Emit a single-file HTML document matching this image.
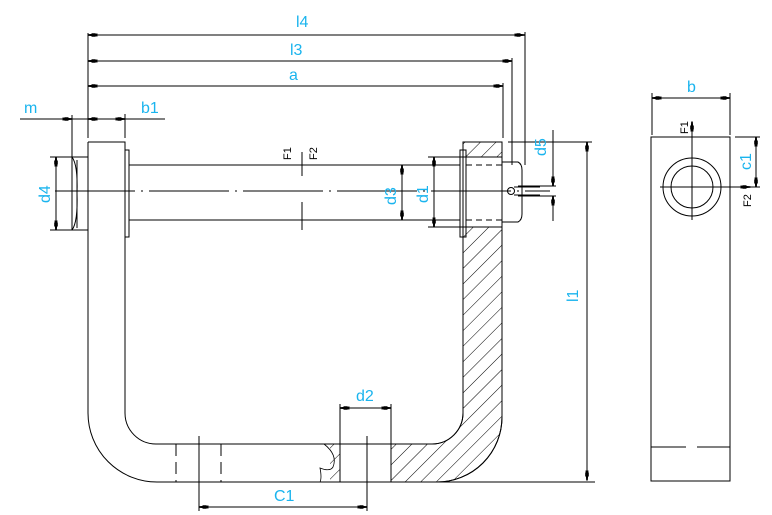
<!DOCTYPE html>
<html><head><meta charset="utf-8"><style>
html,body{margin:0;padding:0;background:#fff;}
svg{display:block}
text{font-family:"Liberation Sans",sans-serif;stroke:none;}
.c{fill:#1ab4ee;font-size:16px;stroke:none;}
.k{fill:#000;font-size:11px;stroke:none;}
</style></head><body>
<svg width="772" height="515" viewBox="0 0 772 515" xmlns="http://www.w3.org/2000/svg">
<defs>
<marker id="a" markerWidth="10" markerHeight="6" refX="9.5" refY="3" orient="auto-start-reverse" markerUnits="userSpaceOnUse">
<path d="M0,1.5 L10,2.2 L10,3.8 L0,4.5 Z M2,1.2 H6 V4.8 H2 Z" fill="#000" stroke="none"/>
</marker>
<pattern id="h" patternUnits="userSpaceOnUse" width="11" height="11" patternTransform="rotate(45)">
<line x1="0" y1="0" x2="0" y2="11" stroke="#000" stroke-width="1"/>
</pattern>
</defs>
<g stroke="#000" stroke-width="1" fill="none">
<path d="M463,142 H502 V157 H463 Z" fill="url(#h)"/>
<path d="M463,227 H502 V417 A65,65 0 0 1 437,482 H391 V444 H432 A31,31 0 0 0 463,413 Z" fill="url(#h)"/>
<path d="M330,444 H340 V482 H330 Z" fill="url(#h)" stroke="none"/>

<line x1="88" y1="33" x2="88" y2="138"/>
<line x1="88" y1="35" x2="524" y2="35" marker-start="url(#a)" marker-end="url(#a)"/>
<line x1="525" y1="32" x2="525" y2="165"/>
<line x1="88" y1="61" x2="512" y2="61" marker-start="url(#a)" marker-end="url(#a)"/>
<line x1="512" y1="58" x2="512" y2="165"/>
<line x1="88" y1="86" x2="503" y2="86" marker-start="url(#a)" marker-end="url(#a)"/>
<line x1="503" y1="83" x2="503" y2="138"/>

<line x1="20" y1="119" x2="165" y2="119"/>
<line x1="58" y1="119" x2="72" y2="119" marker-end="url(#a)"/>
<line x1="88" y1="119" x2="125" y2="119" marker-start="url(#a)" marker-end="url(#a)"/>
<line x1="72" y1="115" x2="72" y2="230"/>
<line x1="125" y1="114" x2="125" y2="138"/>

<path d="M88,142 H125 V413 A31,31 0 0 0 156,444 H432 A31,31 0 0 0 463,413 V142"/>
<path d="M88,142 V413 A69,69 0 0 0 157,482 H595"/>
<line x1="502" y1="142" x2="502" y2="417"/>
<path d="M502,417 A65,65 0 0 1 437,482"/>
<rect x="125" y="150" width="4" height="87"/>
<path d="M50,157 H88 M50,230 H88"/>
<path d="M72,157 Q78,165 77,193 Q78,222 72,230"/>
<line x1="77" y1="160" x2="77" y2="228"/>
<line x1="56" y1="157" x2="56" y2="230" marker-start="url(#a)" marker-end="url(#a)"/>

<line x1="129" y1="165" x2="460" y2="165"/>
<line x1="129" y1="220" x2="460" y2="220"/>
<line x1="55" y1="191" x2="550" y2="191" stroke-dasharray="80,6,2,6"/>
<line x1="302" y1="152" x2="302" y2="176"/>
<line x1="302" y1="202" x2="302" y2="230"/>

<line x1="402" y1="165" x2="402" y2="220" marker-start="url(#a)" marker-end="url(#a)"/>
<line x1="428" y1="157" x2="463" y2="157"/>
<line x1="428" y1="227" x2="463" y2="227"/>
<line x1="434" y1="157" x2="434" y2="227" marker-start="url(#a)" marker-end="url(#a)"/>
<rect x="460" y="150" width="6" height="87"/>
<line x1="466" y1="165" x2="502" y2="165" stroke-dasharray="6,4"/>
<line x1="466" y1="220" x2="502" y2="220" stroke-dasharray="6,4"/>
<path d="M502,162 H518 Q522,164 522,170 V214 Q522,220 518,222 H502"/>
<circle cx="511" cy="191" r="3.5"/>
<line x1="514" y1="187" x2="540" y2="187"/>
<line x1="514" y1="195" x2="540" y2="195"/>
<line x1="518" y1="186" x2="556" y2="186"/>
<line x1="518" y1="196" x2="556" y2="196"/>
<line x1="553" y1="130" x2="553" y2="186" marker-end="url(#a)"/>
<line x1="553" y1="221" x2="553" y2="196" marker-end="url(#a)"/>
<line x1="508" y1="142" x2="592" y2="142"/>
<line x1="587" y1="142" x2="587" y2="480" marker-start="url(#a)" marker-end="url(#a)"/>

<line x1="176" y1="444" x2="176" y2="482" stroke-dasharray="12,6"/>
<line x1="221" y1="444" x2="221" y2="482" stroke-dasharray="12,6"/>
<line x1="199" y1="436" x2="199" y2="511"/>
<line x1="340" y1="404" x2="340" y2="482"/>
<line x1="391" y1="404" x2="391" y2="482"/>
<line x1="367" y1="436" x2="367" y2="511"/>
<line x1="340" y1="408" x2="391" y2="408" marker-start="url(#a)" marker-end="url(#a)"/>
<line x1="199" y1="507" x2="367" y2="507" marker-start="url(#a)" marker-end="url(#a)"/>
<path d="M324,444 Q338,455 333,467 Q330,472 320,468 Q322,478 320,482" stroke-width="0.8"/>

<line x1="652" y1="93" x2="652" y2="135"/>
<line x1="730" y1="93" x2="730" y2="135"/>
<line x1="652" y1="98" x2="730" y2="98" marker-start="url(#a)" marker-end="url(#a)"/>
<rect x="651" y="137" width="79" height="344"/>
<circle cx="692" cy="187" r="29"/>
<circle cx="692" cy="187" r="21"/>
<line x1="692" y1="220" x2="692" y2="122" marker-end="url(#a)"/>
<line x1="660" y1="187" x2="750" y2="187" marker-end="url(#a)"/>
<line x1="750" y1="187" x2="760" y2="187"/>
<line x1="735" y1="137" x2="760" y2="137"/>
<line x1="756" y1="137" x2="756" y2="187" marker-start="url(#a)" marker-end="url(#a)"/>
<line x1="651" y1="447" x2="686" y2="447"/>
<line x1="697" y1="447" x2="730" y2="447"/>
</g>
<text class="c" x="296" y="27">l4</text>
<text class="c" x="290" y="55">l3</text>
<text class="c" x="289" y="80">a</text>
<text class="c" x="24" y="113">m</text>
<text class="c" x="141" y="113">b1</text>
<text class="c" transform="translate(50,203) rotate(-90)">d4</text>
<text class="k" transform="translate(291,160) rotate(-90)">F1</text>
<text class="k" transform="translate(317,160) rotate(-90)">F2</text>
<text class="c" transform="translate(396,205) rotate(-90)">d3</text>
<text class="c" transform="translate(428,203) rotate(-90)">d1</text>
<text class="c" transform="translate(546,156) rotate(-90)">d5</text>
<text class="c" transform="translate(578,302) rotate(-90)">l1</text>
<text class="c" x="356" y="401">d2</text>
<text class="c" x="274" y="501">C1</text>
<text class="c" x="687" y="92">b</text>
<text class="k" transform="translate(688,134) rotate(-90)">F1</text>
<text class="k" transform="translate(751,207) rotate(-90)">F2</text>
<text class="c" transform="translate(751,170) rotate(-90)">c1</text>
</svg>
</body></html>
